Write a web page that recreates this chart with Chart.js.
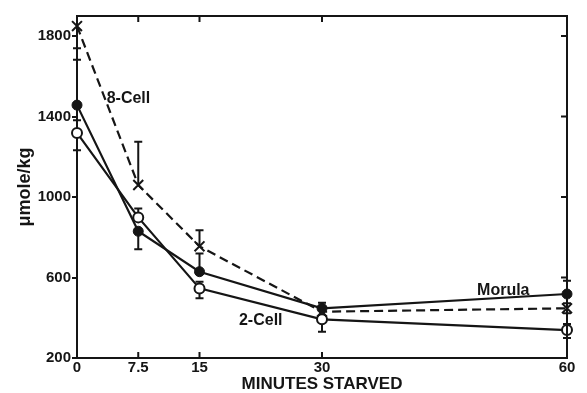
<!DOCTYPE html>
<html>
<head>
<meta charset="utf-8">
<script src="https://cdn.jsdelivr.net/npm/chart.js@4.4.1/dist/chart.umd.min.js"></script>
<style>
  html, body { margin: 0; padding: 0; background: #fff; }
</style>
</head>
<body>
<canvas id="chart" width="587" height="393"></canvas>
<script>
// minutes starved (x) and metabolite level, umole/kg (y)
const minutes = [0, 7.5, 15, 30, 60];
const eightCell = [1850, 1060, 755, 430, 447];
const morula = [1457, 830, 629, 447, 518];
const twoCell = [1319, 899, 546, 392, 339];

// error bars, drawn only on the side shown in the figure
const eightCellErrUp = [0, 215, 80, 0, 25];
const eightCellErrDown = [110, 0, 0, 0, 25];
const morulaErrUp = [225, 0, 90, 28, 66];
const morulaErrDown = [0, 90, 0, 0, 0];
const twoCellErrUp = [63, 44, 33, 0, 30];
const twoCellErrDown = [86, 0, 49, 61, 40];

const xTicks = [0, 7.5, 15, 30, 60];
const yTicks = [200, 600, 1000, 1400, 1800];

// series names written next to the curves, anchored in data units
const seriesNames = ['8-Cell', 'Morula', '2-Cell'];
const nameMinutes = [6.3, 52.2, 22.5];
const nameValues = [1487, 533, 384];

const INK = '#151515';
const FONT = 'Liberation Sans, Arial, sans-serif';
const CAP = 4;
const INNER_TICK = 6;

Chart.defaults.font.family = FONT;
Chart.defaults.font.weight = 'bold';
Chart.defaults.color = INK;

const toPoints = (vals) => vals.map((v, i) => ({ x: minutes[i], y: v }));

const errorBars = {
  id: 'errorBars',
  beforeDatasetsDraw(chart) {
    const { ctx, scales: { x, y } } = chart;
    ctx.save();
    ctx.strokeStyle = INK;
    ctx.lineWidth = 2;
    chart.data.datasets.forEach(ds => {
      ds.data.forEach((p, i) => {
        const up = ds.errUp[i];
        const down = ds.errDown[i];
        if (!up && !down) return;
        const px = x.getPixelForValue(p.x);
        const top = y.getPixelForValue(p.y + up);
        const bot = y.getPixelForValue(p.y - down);
        ctx.beginPath();
        ctx.moveTo(px, top);
        ctx.lineTo(px, bot);
        if (up) { ctx.moveTo(px - CAP, top); ctx.lineTo(px + CAP, top); }
        if (down) { ctx.moveTo(px - CAP, bot); ctx.lineTo(px + CAP, bot); }
        ctx.stroke();
      });
    });
    ctx.restore();
  }
};

const frame = {
  id: 'frame',
  afterDraw(chart) {
    const { ctx, chartArea: a, scales: { x, y } } = chart;
    ctx.save();
    ctx.strokeStyle = INK;
    ctx.lineWidth = 2;
    ctx.beginPath();
    ctx.moveTo(a.left, a.top);
    ctx.lineTo(a.right, a.top);
    ctx.lineTo(a.right, a.bottom);
    // inward ticks on top, bottom and right edges
    xTicks.slice(1, -1).forEach(v => {
      const px = x.getPixelForValue(v);
      ctx.moveTo(px, a.top);
      ctx.lineTo(px, a.top + INNER_TICK);
      ctx.moveTo(px, a.bottom);
      ctx.lineTo(px, a.bottom - INNER_TICK);
    });
    yTicks.slice(1).forEach(v => {
      const py = y.getPixelForValue(v);
      ctx.moveTo(a.right, py);
      ctx.lineTo(a.right - INNER_TICK, py);
    });
    ctx.stroke();

    ctx.fillStyle = INK;
    ctx.font = 'bold 16px ' + FONT;
    ctx.textAlign = 'center';
    ctx.textBaseline = 'middle';
    seriesNames.forEach((name, i) => {
      ctx.fillText(name, x.getPixelForValue(nameMinutes[i]), y.getPixelForValue(nameValues[i]));
    });
    ctx.restore();
  }
};

new Chart(document.getElementById('chart'), {
  type: 'scatter',
  data: {
    datasets: [
      {
        label: '8-Cell',
        data: toPoints(eightCell),
        errUp: eightCellErrUp,
        errDown: eightCellErrDown,
        showLine: true,
        borderColor: INK,
        borderWidth: 2.2,
        borderDash: [9, 5],
        pointStyle: 'crossRot',
        pointRadius: 7,
        pointBorderWidth: 2,
        pointBorderColor: INK,
        clip: false
      },
      {
        label: 'Morula',
        data: toPoints(morula),
        errUp: morulaErrUp,
        errDown: morulaErrDown,
        showLine: true,
        borderColor: INK,
        borderWidth: 2.2,
        pointStyle: 'circle',
        pointRadius: 5,
        pointBorderWidth: 1,
        pointBorderColor: INK,
        pointBackgroundColor: INK,
        clip: false
      },
      {
        label: '2-Cell',
        data: toPoints(twoCell),
        errUp: twoCellErrUp,
        errDown: twoCellErrDown,
        showLine: true,
        borderColor: INK,
        borderWidth: 2.2,
        pointStyle: 'circle',
        pointRadius: 5,
        pointBorderWidth: 2,
        pointBorderColor: INK,
        pointBackgroundColor: '#fff',
        clip: false
      }
    ]
  },
  options: {
    responsive: false,
    animation: false,
    devicePixelRatio: 1,
    layout: { padding: { top: 16, right: 20, left: 0, bottom: 0 } },
    plugins: {
      legend: { display: false },
      tooltip: { enabled: false }
    },
    scales: {
      x: {
        type: 'linear',
        min: 0,
        max: 60,
        afterBuildTicks: (s) => { s.ticks = xTicks.map(v => ({ value: v })); },
        afterFit: (s) => { s.height = 35; },
        border: { color: INK, width: 2 },
        grid: { drawOnChartArea: false, drawTicks: false },
        ticks: {
          padding: 1,
          font: { size: 15 },
          maxRotation: 0,
          autoSkip: false,
          callback: (v) => String(v)
        },
        title: {
          display: true,
          text: 'MINUTES STARVED',
          font: { size: 17 },
          padding: { top: 0, bottom: -2 }
        }
      },
      y: {
        min: 200,
        max: 1900,
        afterBuildTicks: (s) => { s.ticks = yTicks.map(v => ({ value: v })); },
        afterFit: (s) => { s.width = 77; },
        border: { color: INK, width: 2 },
        grid: { drawOnChartArea: false, tickLength: 5, color: INK, lineWidth: 2 },
        ticks: { padding: 1, font: { size: 15 }, callback: (v) => String(v) },
        title: {
          display: true,
          text: 'μmole/kg',
          font: { size: 18 },
          padding: { top: 14, bottom: 0 }
        }
      }
    }
  },
  plugins: [errorBars, frame]
});
</script>
</body>
</html>
